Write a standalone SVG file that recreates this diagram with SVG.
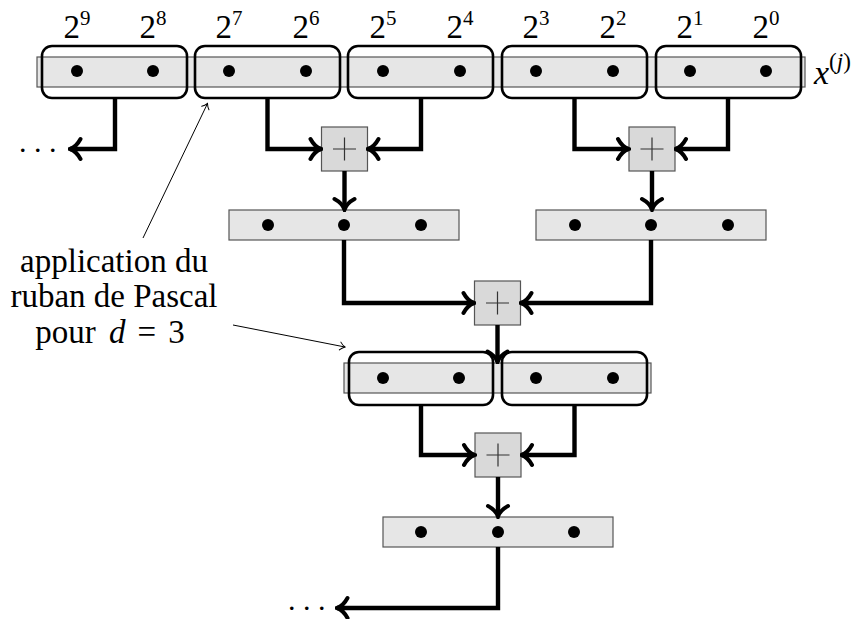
<svg xmlns="http://www.w3.org/2000/svg" width="860" height="619" viewBox="0 0 860 619">
<style>
.bar{fill:#e6e6e6;stroke:#555;stroke-width:1.2}
.grp{fill:none;stroke:#000;stroke-width:2.6}
.dot{fill:#000}
.op{fill:#d9d9d9;stroke:#555;stroke-width:1.2}
.plus{stroke:#333;stroke-width:1.2;fill:none}
.conn{fill:none;stroke:#000;stroke-width:4.4;stroke-linejoin:miter}
.thin{fill:none;stroke:#000;stroke-width:1}
text{font-family:"Liberation Serif","DejaVu Serif",serif;fill:#000}
.lbl{font-size:33px;text-anchor:middle}
.sup{font-size:21px}
.note{font-size:33px;text-anchor:middle}
.it{font-style:italic}
</style>
<defs>
<marker id="big" viewBox="-14 -13 16 26" refX="0" refY="0" markerWidth="16" markerHeight="26" markerUnits="userSpaceOnUse" orient="auto">
<path d="M -10.5,-10 C -7,-3.5 -3,-1 0,0 C -3,1 -7,3.5 -10.5,10" fill="none" stroke="#000" stroke-width="4" stroke-linecap="round"/>
</marker>
<marker id="small" viewBox="-8 -6 10 12" refX="0" refY="0" markerWidth="10" markerHeight="12" markerUnits="userSpaceOnUse" orient="auto">
<path d="M -5,-4 C -3,-1.5 -1,-0.5 0,0 C -1,0.5 -3,1.5 -5,4" fill="none" stroke="#000" stroke-width="1" stroke-linecap="round"/>
</marker>
</defs>

<g id="row1">
<rect class="bar" x="37" y="57" width="768" height="30"/>
<g class="lbl">
<text class="lbl" x="77" y="38">2<tspan class="sup" dy="-13">9</tspan></text>
<text class="lbl" x="153" y="38">2<tspan class="sup" dy="-13">8</tspan></text>
<text class="lbl" x="229" y="38">2<tspan class="sup" dy="-13">7</tspan></text>
<text class="lbl" x="306" y="38">2<tspan class="sup" dy="-13">6</tspan></text>
<text class="lbl" x="383" y="38">2<tspan class="sup" dy="-13">5</tspan></text>
<text class="lbl" x="460" y="38">2<tspan class="sup" dy="-13">4</tspan></text>
<text class="lbl" x="536" y="38">2<tspan class="sup" dy="-13">3</tspan></text>
<text class="lbl" x="613" y="38">2<tspan class="sup" dy="-13">2</tspan></text>
<text class="lbl" x="690" y="38">2<tspan class="sup" dy="-13">1</tspan></text>
<text class="lbl" x="766" y="38">2<tspan class="sup" dy="-13">0</tspan></text>
</g>
<g class="dot">
<circle cx="77" cy="71" r="6"/><circle cx="153" cy="71" r="6"/>
<circle cx="229" cy="71" r="6"/><circle cx="306" cy="71" r="6"/>
<circle cx="383" cy="71" r="6"/><circle cx="460" cy="71" r="6"/>
<circle cx="536" cy="71" r="6"/><circle cx="613" cy="71" r="6"/>
<circle cx="690" cy="71" r="6"/><circle cx="766" cy="71" r="6"/>
</g>
<rect class="grp" x="42" y="46" width="145" height="52" rx="10"/>
<rect class="grp" x="195" y="46" width="145" height="52" rx="10"/>
<rect class="grp" x="348" y="46" width="145" height="52" rx="10"/>
<rect class="grp" x="502" y="46" width="145" height="52" rx="10"/>
<rect class="grp" x="656" y="46" width="145" height="52" rx="10"/>
<text x="814" y="84" style="font-size:34px"><tspan class="it">x</tspan><tspan class="sup" dy="-15" style="font-size:23px">(<tspan class="it">j</tspan>)</tspan></text>
</g>

<g id="plus1"><rect class="op" x="321.5" y="127" width="46" height="44"/><path class="plus" d="M 333,149 H 356 M 344.5,137.5 V 160.5"/></g>
<g id="plus2"><rect class="op" x="629" y="127" width="46" height="44"/><path class="plus" d="M 640.5,149 H 663.5 M 652,137.5 V 160.5"/></g>

<g id="row2a"><rect class="bar" x="229" y="210" width="230" height="30"/>
<g class="dot"><circle cx="268" cy="225" r="6"/><circle cx="344" cy="225" r="6"/><circle cx="421" cy="225" r="6"/></g></g>
<g id="row2b"><rect class="bar" x="536" y="210" width="230" height="30"/>
<g class="dot"><circle cx="575" cy="225" r="6"/><circle cx="651" cy="225" r="6"/><circle cx="728" cy="225" r="6"/></g></g>

<g id="plus3"><rect class="op" x="474.5" y="281" width="46" height="44"/><path class="plus" d="M 486,303 H 509 M 497.5,291.5 V 314.5"/></g>

<g id="row3">
<rect class="bar" x="344" y="363" width="307" height="30"/>
<g class="dot"><circle cx="383" cy="378" r="6"/><circle cx="459" cy="378" r="6"/><circle cx="536" cy="378" r="6"/><circle cx="613" cy="378" r="6"/></g>
<rect class="grp" x="349" y="352" width="144" height="53" rx="10"/>
<rect class="grp" x="502" y="352" width="145" height="53" rx="10"/>
</g>

<g id="plus4"><rect class="op" x="475" y="433" width="46" height="44"/><path class="plus" d="M 486.5,455 H 509.5 M 498,443.5 V 466.5"/></g>

<g id="row4"><rect class="bar" x="383" y="517" width="230" height="30"/>
<g class="dot"><circle cx="421" cy="532" r="6"/><circle cx="498" cy="532" r="6"/><circle cx="574" cy="532" r="6"/></g></g>

<g id="connectors">
<polyline class="conn" points="115,98 115,149 70,149" marker-end="url(#big)"/>
<polyline class="conn" points="267.5,98 267.5,149 321,149" marker-end="url(#big)"/>
<polyline class="conn" points="421,98 421,149 368,149" marker-end="url(#big)"/>
<polyline class="conn" points="574.5,98 574.5,149 628.5,149" marker-end="url(#big)"/>
<polyline class="conn" points="728,98 728,149 675.5,149" marker-end="url(#big)"/>
<polyline class="conn" points="344.5,171 344.5,209.5" marker-end="url(#big)"/>
<polyline class="conn" points="652,171 652,209.5" marker-end="url(#big)"/>
<polyline class="conn" points="344,240 344,303 474,303" marker-end="url(#big)"/>
<polyline class="conn" points="651,240 651,303 521,303" marker-end="url(#big)"/>
<polyline class="conn" points="497.5,325 497.5,362" marker-end="url(#big)"/>
<polyline class="conn" points="421,405 421,455 474.5,455" marker-end="url(#big)"/>
<polyline class="conn" points="574.5,405 574.5,455 521.5,455" marker-end="url(#big)"/>
<polyline class="conn" points="498,477 498,516.5" marker-end="url(#big)"/>
<polyline class="conn" points="498,547 498,608 337,608" marker-end="url(#big)"/>
<line class="thin" x1="143" y1="238" x2="207.5" y2="103.5" marker-end="url(#small)"/>
<line class="thin" x1="233" y1="325" x2="345" y2="347" marker-end="url(#small)"/>
</g>

<g id="ellipses" style="font-size:30px">
<text x="19" y="152">. . .</text>
<text x="288" y="610">. . .</text>
</g>

<g id="note">
<text class="note" x="114" y="272">application du</text>
<text class="note" x="114" y="307">ruban de Pascal</text>
<text class="note" x="110" y="343">pour <tspan class="it" dx="5">d</tspan><tspan dx="12">=</tspan><tspan dx="12">3</tspan></text>
</g>
</svg>
